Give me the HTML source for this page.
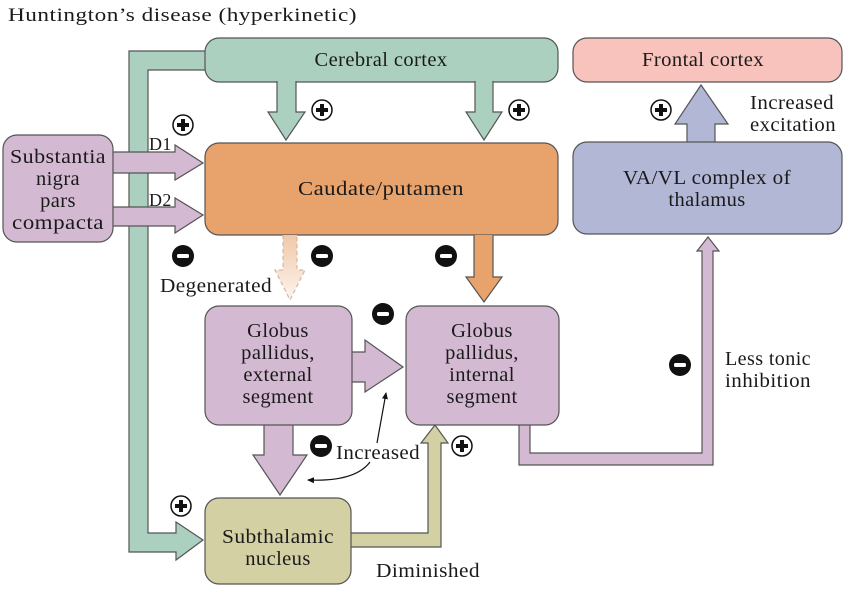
<!DOCTYPE html>
<html><head><meta charset="utf-8"><style>
html,body{margin:0;padding:0;background:#fff;}
svg{display:block;}
text{font-family:"Liberation Serif",serif;fill:#1a1a1a;letter-spacing:0.4px;}
</style></head><body>
<svg width="846" height="592" viewBox="0 0 846 592" xmlns="http://www.w3.org/2000/svg">
<defs>
<linearGradient id="fade" x1="0" y1="0" x2="0" y2="1">
<stop offset="0" stop-color="#f0c8a8"/><stop offset="1" stop-color="#fdf4ee"/>
</linearGradient>
<marker id="ah" markerWidth="8" markerHeight="8" refX="6" refY="4" orient="auto" markerUnits="userSpaceOnUse"><path d="M0,1 L7,4 L0,7 Z" fill="#111"/></marker>
</defs>
<g stroke="#555" stroke-width="1.2">
<path d="M205,51 L129,51 L129,552 L176,552 L176,560 L203,540 L176,522 L176,533 L148,533 L148,70 L210,70 Z" fill="#acd0bf"/>
<rect x="205" y="38" width="353" height="44" rx="14" fill="#acd0bf"/>
<path d="M277,81 L277,112 L268,112 L286,140 L305,112 L296,112 L296,81" fill="#acd0bf"/>
<path d="M475,81 L475,112 L466,112 L484,140 L502,112 L493,112 L493,81" fill="#acd0bf"/>
<path d="M110,152 L175,152 L175,145 L203,163 L175,180 L175,173 L110,173 Z" fill="#d4b9d2"/>
<path d="M110,207 L175,207 L175,198 L203,215 L175,233 L175,226 L110,226 Z" fill="#d4b9d2"/>
<rect x="3" y="135" width="110" height="107" rx="14" fill="#d4b9d2"/>
<rect x="205" y="143" width="353" height="92" rx="14" fill="#e8a26c"/>
<path d="M283,235 L283,270 L275,270 L290,300 L305,270 L297,270 L297,235" fill="url(#fade)" stroke="#d4b8a4" stroke-dasharray="4,3"/>
<path d="M474,235 L474,277 L466,277 L484,302 L502,277 L493,277 L493,235" fill="#e8a26c"/>
<path d="M519,424 L519,465 L713,465 L713,251 L719,251 L708,237 L697,251 L702,251 L702,453 L530,453 L530,424" fill="#d4b9d2"/>
<path d="M349,533 L428,533 L428,443 L421,443 L435,425 L448,443 L441,443 L441,547 L349,547 Z" fill="#d3d0a4"/>
<path d="M350,352 L365,352 L365,340 L403,367 L365,392 L365,382 L350,382 Z" fill="#d4b9d2"/>
<path d="M264,423 L264,455 L253,455 L280,495 L307,455 L293,455 L293,423" fill="#d4b9d2"/>
<rect x="205" y="306" width="147" height="119" rx="14" fill="#d4b9d2"/>
<rect x="406" y="306" width="153" height="119" rx="14" fill="#d4b9d2"/>
<rect x="205" y="498" width="146" height="86" rx="14" fill="#d3d0a4"/>
<rect x="573" y="38" width="269" height="44" rx="14" fill="#f8c2bd"/>
<path d="M687,143 L687,124 L675,124 L701,85 L728,124 L715,124 L715,143" fill="#b3b7d6"/>
<rect x="573" y="142" width="269" height="92" rx="14" fill="#b3b7d6"/>
</g>
<path d="M377,443 L386,393" stroke="#111" stroke-width="1.2" fill="none" marker-end="url(#ah)"/>
<path d="M370,462 Q355,482 308,480" stroke="#111" stroke-width="1.2" fill="none" marker-end="url(#ah)"/>
<g fill="#fff" stroke="#111" stroke-width="1.5">
<circle cx="183" cy="125" r="10"/><circle cx="322" cy="110" r="10"/><circle cx="519" cy="110" r="10"/><circle cx="661" cy="110" r="10"/><circle cx="181" cy="506" r="10"/><circle cx="462" cy="446" r="10"/>
</g>
<g fill="#111">
<path d="M181,119h4v4h4v4h-4v4h-4v-4h-4v-4h4z"/>
<path d="M320,104h4v4h4v4h-4v4h-4v-4h-4v-4h4z"/>
<path d="M517,104h4v4h4v4h-4v4h-4v-4h-4v-4h4z"/>
<path d="M659,104h4v4h4v4h-4v4h-4v-4h-4v-4h4z"/>
<path d="M179,500h4v4h4v4h-4v4h-4v-4h-4v-4h4z"/>
<path d="M460,440h4v4h4v4h-4v4h-4v-4h-4v-4h4z"/>
<circle cx="183" cy="256" r="11"/><circle cx="322" cy="256" r="11"/><circle cx="446" cy="256" r="11"/><circle cx="383" cy="314" r="11"/><circle cx="321" cy="446" r="11"/><circle cx="680" cy="365" r="11"/>
</g>
<g fill="#fff">
<rect x="177" y="254" width="12" height="4" rx="1.5"/><rect x="316" y="254" width="12" height="4" rx="1.5"/><rect x="440" y="254" width="12" height="4" rx="1.5"/><rect x="377" y="312" width="12" height="4" rx="1.5"/><rect x="315" y="444" width="12" height="4" rx="1.5"/><rect x="674" y="363" width="12" height="4" rx="1.5"/>
</g>
<g font-size="20.5">
<text x="8" y="21" font-size="19" textLength="349" lengthAdjust="spacingAndGlyphs">Huntington’s disease (hyperkinetic)</text>
<text x="381" y="66" text-anchor="middle" textLength="133" lengthAdjust="spacingAndGlyphs">Cerebral cortex</text>
<text x="703" y="66" text-anchor="middle" textLength="122" lengthAdjust="spacingAndGlyphs">Frontal cortex</text>
<text x="381" y="195" text-anchor="middle" textLength="166" lengthAdjust="spacingAndGlyphs">Caudate/putamen</text>
<text x="58" y="163" text-anchor="middle" textLength="96" lengthAdjust="spacingAndGlyphs">Substantia</text>
<text x="58" y="185" text-anchor="middle">nigra</text>
<text x="58" y="207" text-anchor="middle">pars</text>
<text x="58" y="229" text-anchor="middle" textLength="92" lengthAdjust="spacingAndGlyphs">compacta</text>
<text x="149" y="150" font-size="18">D1</text>
<text x="149" y="206" font-size="18">D2</text>
<text x="707" y="184" text-anchor="middle" textLength="168" lengthAdjust="spacingAndGlyphs">VA/VL complex of</text>
<text x="707" y="206" text-anchor="middle">thalamus</text>
<text x="750" y="109" textLength="84" lengthAdjust="spacingAndGlyphs">Increased</text>
<text x="750" y="131" textLength="86" lengthAdjust="spacingAndGlyphs">excitation</text>
<text x="160" y="292" textLength="112" lengthAdjust="spacingAndGlyphs">Degenerated</text>
<text x="278" y="337" text-anchor="middle">Globus</text>
<text x="278" y="359" text-anchor="middle">pallidus,</text>
<text x="278" y="381" text-anchor="middle">external</text>
<text x="278" y="403" text-anchor="middle">segment</text>
<text x="482" y="337" text-anchor="middle">Globus</text>
<text x="482" y="359" text-anchor="middle">pallidus,</text>
<text x="482" y="381" text-anchor="middle">internal</text>
<text x="482" y="403" text-anchor="middle">segment</text>
<text x="725" y="365" textLength="86" lengthAdjust="spacingAndGlyphs">Less tonic</text>
<text x="725" y="387" textLength="86" lengthAdjust="spacingAndGlyphs">inhibition</text>
<text x="336" y="459" textLength="84" lengthAdjust="spacingAndGlyphs">Increased</text>
<text x="278" y="543" text-anchor="middle" textLength="112" lengthAdjust="spacingAndGlyphs">Subthalamic</text>
<text x="278" y="565" text-anchor="middle">nucleus</text>
<text x="376" y="577" textLength="104" lengthAdjust="spacingAndGlyphs">Diminished</text>
</g>
</svg>
</body></html>
